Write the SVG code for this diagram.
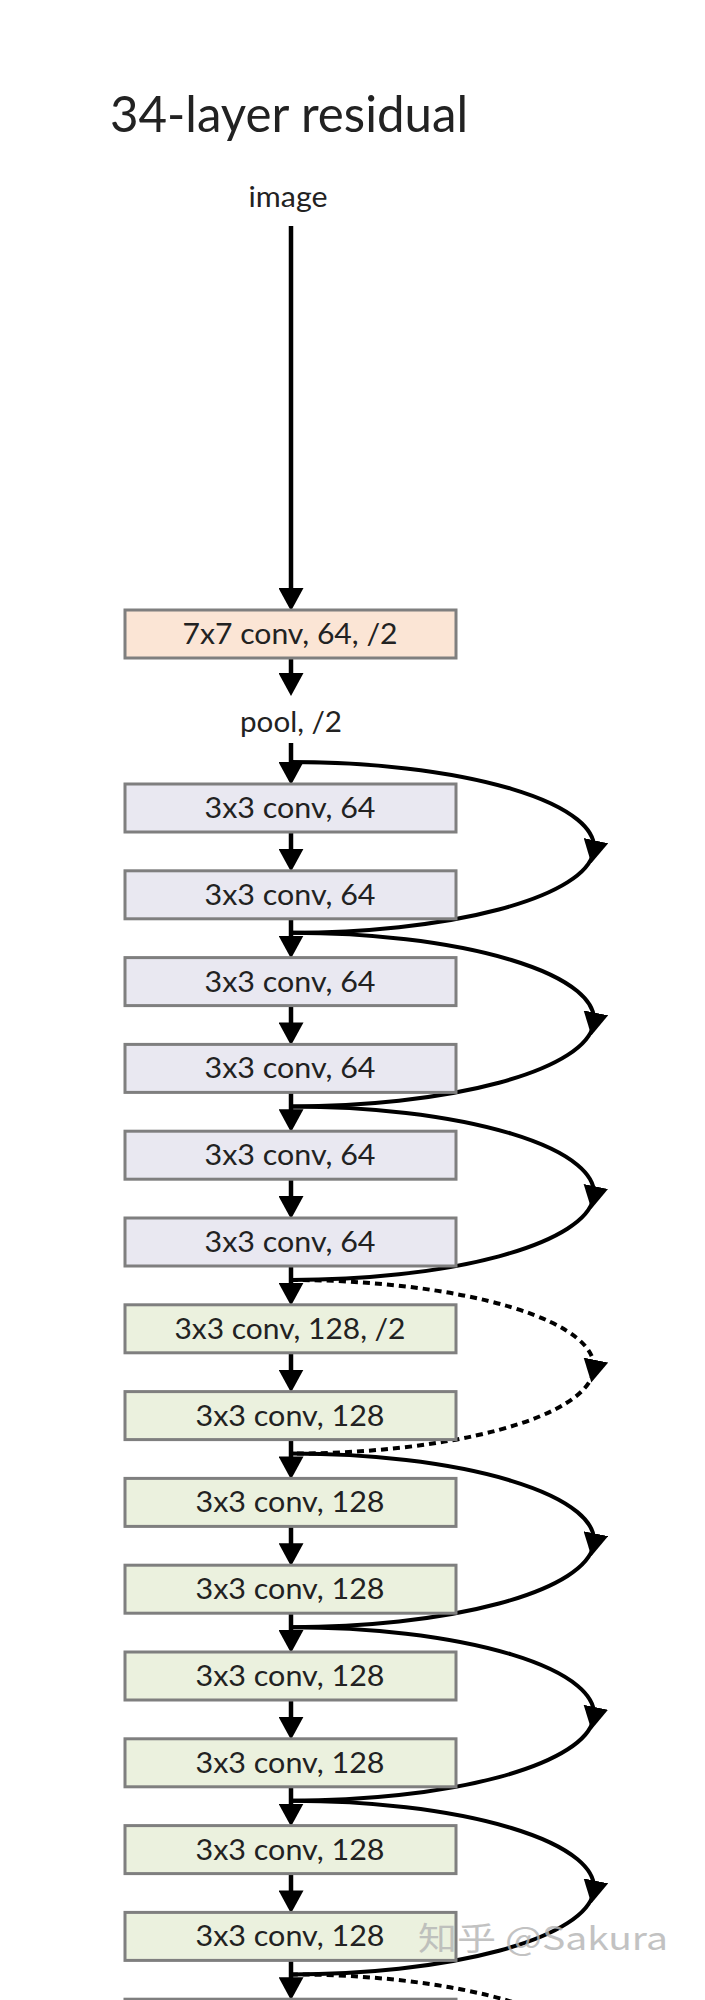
<svg xmlns="http://www.w3.org/2000/svg" width="705" height="2000" viewBox="0 0 705 2000">
<style>
.bg{fill:#ffffff}
.box{stroke:#7f7f7f;stroke-width:3}
.peach{fill:#fbe5d5}
.lav{fill:#e9e8f1}
.grn{fill:#ebf1de}
.lbl{font-family:Lato,"Liberation Sans",sans-serif;font-size:28px;fill:#222222;text-anchor:middle}
.plain{font-family:Lato,"Liberation Sans",sans-serif;font-size:29px;fill:#222222;text-anchor:middle}
.title{font-family:Lato,"Liberation Sans",sans-serif;font-size:50px;fill:#222222}
.wm{font-family:"Noto Sans CJK SC","Noto Sans",sans-serif;font-size:32px;fill:#b4b4b4;opacity:0.8}
.v{stroke:#000;stroke-width:4.5;fill:none;marker-end:url(#ah)}
.c{stroke:#000;stroke-width:4;fill:none}
.d{stroke:#000;stroke-width:4;fill:none;stroke-dasharray:7 5}
.m{marker-end:url(#ah)}
</style>
<defs>
<marker id="ah" markerUnits="userSpaceOnUse" markerWidth="23" markerHeight="25" viewBox="0 0 23 25" refX="12" refY="12.5" orient="auto"><path d="M0,0 L23,12.5 L0,25 z" fill="#000"/></marker>
</defs>
<rect class="bg" x="0" y="0" width="705" height="2000"/>
<text class="title" x="110" y="132" textLength="358" lengthAdjust="spacingAndGlyphs">34-layer residual</text>
<g id="image"><text class="plain" x="288" y="207" textLength="79" lengthAdjust="spacingAndGlyphs">image</text></g>
<g id="pool"><text class="plain" x="291" y="732" textLength="102" lengthAdjust="spacingAndGlyphs">pool, /2</text></g>

<g id="connectors">
<path class="v" d="M291,226 V600"/>
<path class="v" d="M291,658 V685"/>
<path class="v" d="M291,743 V774"/>
<path class="v" d="M291,832 V860.8"/>
<path class="v" d="M291,918.8 V947.6"/>
<path class="v" d="M291,1005.6 V1034.4"/>
<path class="v" d="M291,1092.4 V1121.2"/>
<path class="v" d="M291,1179.2 V1208"/>
<path class="v" d="M291,1266 V1294.8"/>
<path class="v" d="M291,1352.8 V1381.6"/>
<path class="v" d="M291,1439.6 V1468.4"/>
<path class="v" d="M291,1526.4 V1555.2"/>
<path class="v" d="M291,1613.2 V1642"/>
<path class="v" d="M291,1700 V1728.8"/>
<path class="v" d="M291,1786.8 V1815.6"/>
<path class="v" d="M291,1873.6 V1902.4"/>
<path class="v" d="M291,1960.4 V1989.2"/>

<path class="c m" d="M291,762 A303,85.4 0 0 1 593.5,852.4"/>
<path class="c" d="M593.5,852.4 A303,85.4 0 0 1 291,932.8"/>
<path class="c m" d="M291,932.8 A303,86.8 0 0 1 593.5,1024.6"/>
<path class="c" d="M593.5,1024.6 A303,86.8 0 0 1 291,1106.4"/>
<path class="c m" d="M291,1106.4 A303,86.8 0 0 1 593.5,1198.2"/>
<path class="c" d="M593.5,1198.2 A303,86.8 0 0 1 291,1280"/>
<path class="d m" d="M291,1280 A303,86.8 0 0 1 593.5,1371.8"/>
<path class="d" d="M593.5,1371.8 A303,86.8 0 0 1 291,1453.6"/>
<path class="c m" d="M291,1453.6 A303,86.8 0 0 1 593.5,1545.4"/>
<path class="c" d="M593.5,1545.4 A303,86.8 0 0 1 291,1627.2"/>
<path class="c m" d="M291,1627.2 A303,86.8 0 0 1 593.5,1719"/>
<path class="c" d="M593.5,1719 A303,86.8 0 0 1 291,1800.8"/>
<path class="c m" d="M291,1800.8 A303,86.8 0 0 1 593.5,1892.6"/>
<path class="c" d="M593.5,1892.6 A303,86.8 0 0 1 291,1974.4"/>
<path class="d m" d="M291,1974.4 A303,86.8 0 0 1 593.5,2066.2"/>
</g>

<g id="conv7"><rect class="box peach" x="125" y="610" width="331" height="48"/><text class="lbl" x="290" y="644" textLength="215" lengthAdjust="spacingAndGlyphs">7x7 conv, 64, /2</text></g>

<g id="c64_1"><rect class="box lav" x="125" y="784" width="331" height="48"/><text class="lbl" x="290" y="818" textLength="171" lengthAdjust="spacingAndGlyphs">3x3 conv, 64</text></g>
<g id="c64_2"><rect class="box lav" x="125" y="870.8" width="331" height="48"/><text class="lbl" x="290" y="904.8" textLength="171" lengthAdjust="spacingAndGlyphs">3x3 conv, 64</text></g>
<g id="c64_3"><rect class="box lav" x="125" y="957.6" width="331" height="48"/><text class="lbl" x="290" y="991.6" textLength="171" lengthAdjust="spacingAndGlyphs">3x3 conv, 64</text></g>
<g id="c64_4"><rect class="box lav" x="125" y="1044.4" width="331" height="48"/><text class="lbl" x="290" y="1078.4" textLength="171" lengthAdjust="spacingAndGlyphs">3x3 conv, 64</text></g>
<g id="c64_5"><rect class="box lav" x="125" y="1131.2" width="331" height="48"/><text class="lbl" x="290" y="1165.2" textLength="171" lengthAdjust="spacingAndGlyphs">3x3 conv, 64</text></g>
<g id="c64_6"><rect class="box lav" x="125" y="1218" width="331" height="48"/><text class="lbl" x="290" y="1252" textLength="171" lengthAdjust="spacingAndGlyphs">3x3 conv, 64</text></g>

<g id="c128_1"><rect class="box grn" x="125" y="1304.8" width="331" height="48"/><text class="lbl" x="290" y="1338.8" textLength="231" lengthAdjust="spacingAndGlyphs">3x3 conv, 128, /2</text></g>
<g id="c128_2"><rect class="box grn" x="125" y="1391.6" width="331" height="48"/><text class="lbl" x="290" y="1425.6" textLength="189" lengthAdjust="spacingAndGlyphs">3x3 conv, 128</text></g>
<g id="c128_3"><rect class="box grn" x="125" y="1478.4" width="331" height="48"/><text class="lbl" x="290" y="1512.4" textLength="189" lengthAdjust="spacingAndGlyphs">3x3 conv, 128</text></g>
<g id="c128_4"><rect class="box grn" x="125" y="1565.2" width="331" height="48"/><text class="lbl" x="290" y="1599.2" textLength="189" lengthAdjust="spacingAndGlyphs">3x3 conv, 128</text></g>
<g id="c128_5"><rect class="box grn" x="125" y="1652" width="331" height="48"/><text class="lbl" x="290" y="1686" textLength="189" lengthAdjust="spacingAndGlyphs">3x3 conv, 128</text></g>
<g id="c128_6"><rect class="box grn" x="125" y="1738.8" width="331" height="48"/><text class="lbl" x="290" y="1772.8" textLength="189" lengthAdjust="spacingAndGlyphs">3x3 conv, 128</text></g>
<g id="c128_7"><rect class="box grn" x="125" y="1825.6" width="331" height="48"/><text class="lbl" x="290" y="1859.6" textLength="189" lengthAdjust="spacingAndGlyphs">3x3 conv, 128</text></g>
<g id="c128_8"><rect class="box grn" x="125" y="1912.4" width="331" height="48"/><text class="lbl" x="290" y="1946.4" textLength="189" lengthAdjust="spacingAndGlyphs">3x3 conv, 128</text></g>
<g id="next"><rect class="box grn" x="125" y="1999.2" width="331" height="48"/></g>

<text class="wm" x="418" y="1950" textLength="250" lengthAdjust="spacingAndGlyphs">知乎 @Sakura</text>
</svg>
